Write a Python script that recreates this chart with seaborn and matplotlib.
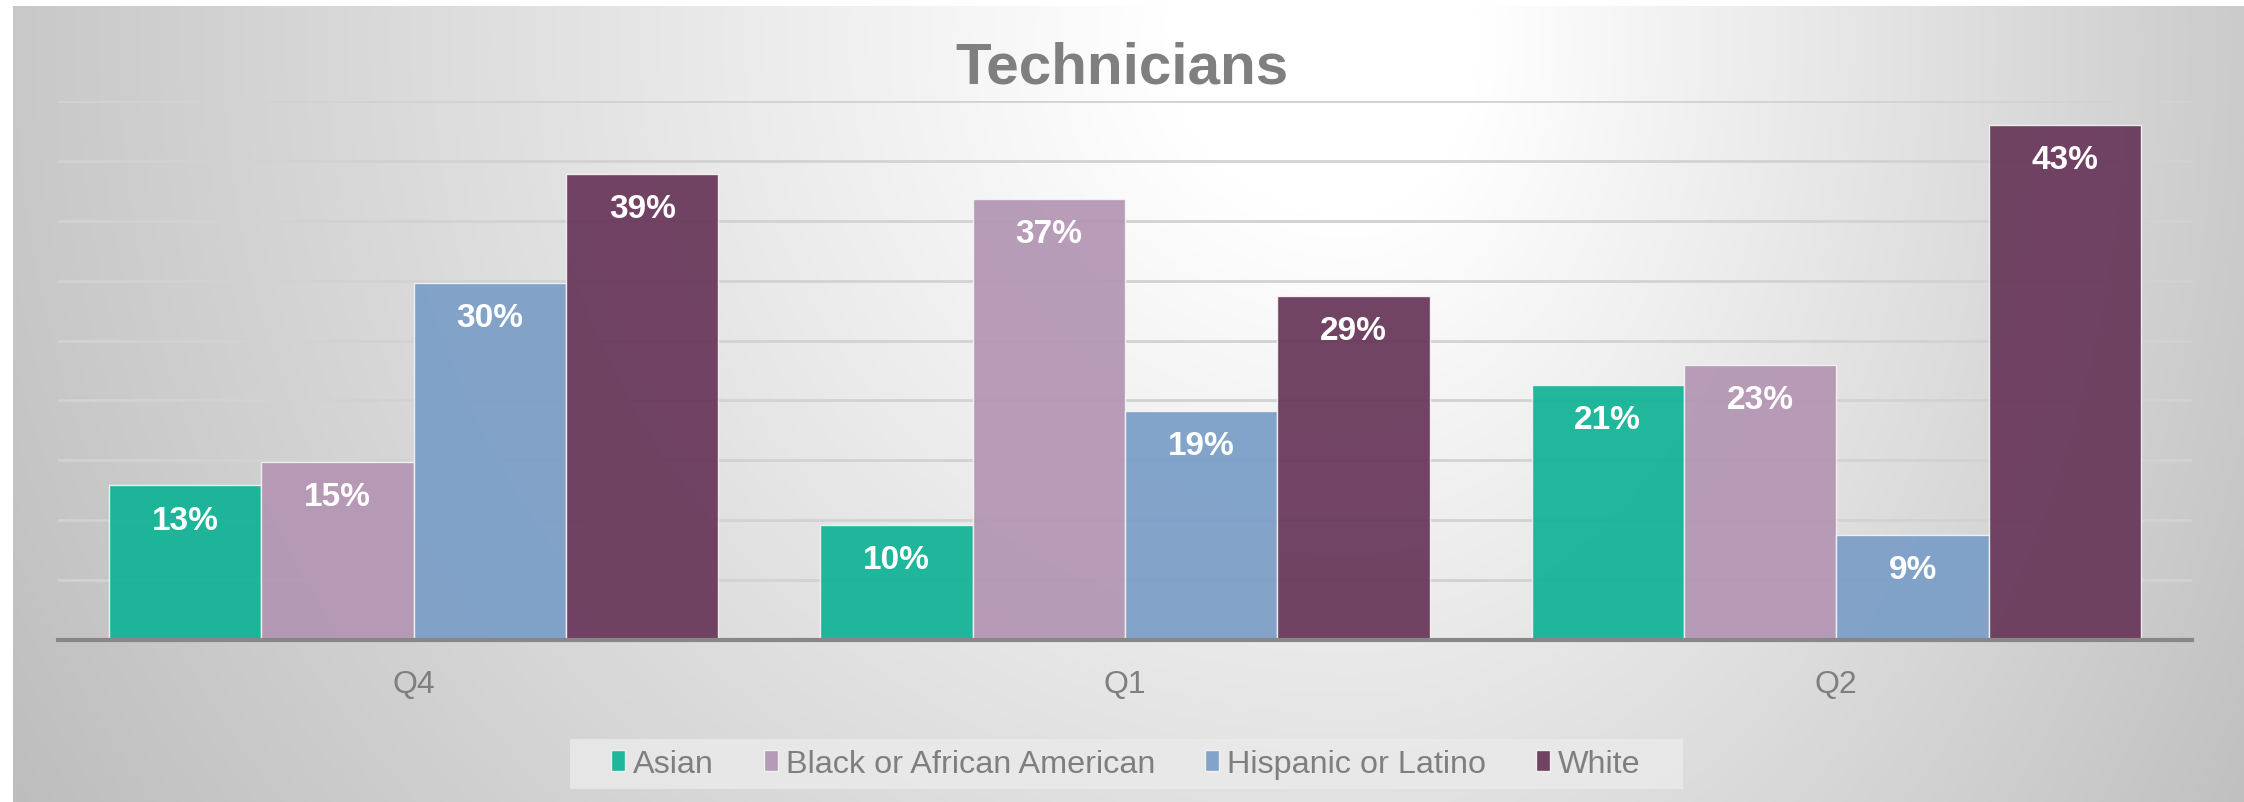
import numpy as np
import pandas as pd
import matplotlib
matplotlib.use("Agg")
import matplotlib.pyplot as plt
from matplotlib.patches import Rectangle
import seaborn as sns

# ---- data ----
quarters = ["Q4", "Q1", "Q2"]
groups = ["Asian", "Black or African American", "Hispanic or Latino", "White"]
asian = [0.129, 0.096, 0.213]
black = [0.149, 0.368, 0.230]
hispanic = [0.298, 0.191, 0.088]
white = [0.389, 0.287, 0.430]
colors = ["#10B396", "#B395B3", "#7B9EC7", "#683659"]
title = "Technicians"

series = [asian, black, hispanic, white]
rows = []
for g, vals in zip(groups, series):
    for q, v in zip(quarters, vals):
        rows.append({"Quarter": q, "Group": g, "Value": v})
df = pd.DataFrame(rows)

sns.set_theme(style="white")
plt.rcParams["font.family"] = ["Liberation Sans", "DejaVu Sans"]

W, H = 2244, 803
fig = plt.figure(figsize=(W / 100, H / 100), dpi=100, facecolor="white")

# ---- gradient background ----
bg = fig.add_axes([0, 0, 1, 1], zorder=-10)
x0, x1, y0, y1 = 13, W, 7, H
xs = np.linspace(x0, x1, 700)
ys = np.linspace(y0, y1, 260)
X, Y = np.meshgrid(xs, ys)
cx, cy = 1350, 40
dx = np.where(X < cx, (X - cx) / (cx - x0), (X - cx) / (x1 - cx) * 0.95)
dy = (Y - cy) / (y1 - cy) * 0.6
r = np.sqrt(dx ** 2 + dy ** 2)
val = np.clip(264 - 64 * r, 185, 255)
img = np.dstack([val, val, val]) / 255.0
bg.imshow(img, extent=(x0, x1, y1, y0), aspect="auto", interpolation="bilinear")
bg.set_xlim(0, W)
bg.set_ylim(H, 0)
bg.axis("off")

# legend box background
bg.add_patch(Rectangle((570, 740), 1113, 50, facecolor="#eaeaea", edgecolor="none", alpha=0.85))

# ---- main axes ----
ax = fig.add_axes([58 / W, 1 - 641 / H, (2192 - 58) / W, (641 - 102) / H])
ax.set_facecolor("none")
sns.barplot(data=df, x="Quarter", y="Value", hue="Group", hue_order=groups,
            order=quarters, palette=colors, width=0.857, gap=0, alpha=0.93,
            edgecolor="#f4f4f4", linewidth=1, saturation=1, ax=ax, errorbar=None)

ax.set_ylim(0, 0.45)
ax.set_xlim(-0.5, 2.5)
ax.set_yticks(np.arange(0, 0.451, 0.05))
ax.set_yticklabels([])
ax.yaxis.grid(True, color="#d2d2d2", linewidth=2)
ax.set_axisbelow(True)
ax.tick_params(axis="both", length=0)
ax.tick_params(axis="x", labelsize=23, labelcolor="#7f7f7f", pad=21)
ax.set_xlabel("")
ax.set_ylabel("")
for s in ["left", "right", "top"]:
    ax.spines[s].set_visible(False)
ax.spines["bottom"].set_color("#878787")
ax.spines["bottom"].set_linewidth(3)

# value labels
for cont in ax.containers:
    for p in cont:
        h = p.get_height()
        ax.annotate(f"{h:.0%}", (p.get_x() + p.get_width() / 2, h),
                    xytext=(0, -31), textcoords="offset points",
                    ha="center", va="baseline", color="white",
                    fontsize=24, fontweight="bold")

# legend
handles, labels = ax.get_legend_handles_labels()
if ax.get_legend() is not None:
    ax.get_legend().remove()
fig.legend(handles, labels, ncol=4, loc="center",
           bbox_to_anchor=(1126 / W, 1 - 765 / H), frameon=False,
           fontsize=23.3, labelcolor="#7f7f7f", handlelength=0.42,
           handleheight=0.65, handletextpad=0.25, columnspacing=1.55)

fig.text(1122 / W, 1 - 83 / H, title, ha="center", va="baseline",
         fontsize=42, fontweight="bold", color="#7f7f7f")

fig.savefig("out.png", dpi=100, facecolor="white")
